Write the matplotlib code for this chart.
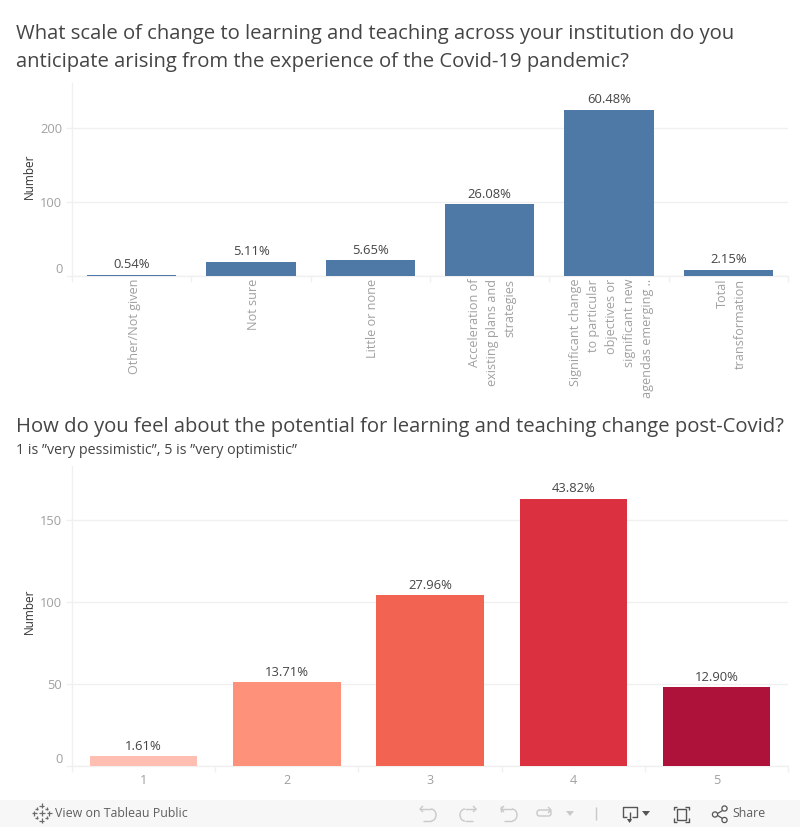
import matplotlib
matplotlib.use("Agg")
import matplotlib.pyplot as plt
from matplotlib.lines import Line2D
from matplotlib.patches import Arc, Circle, Polygon, Rectangle, FancyBboxPatch
from matplotlib.transforms import ScaledTranslation

FONT = "Open Sans"
plt.rcParams["font.family"] = [FONT, "DejaVu Sans"]

W, H = 800, 827

title_top = "What scale of change to learning and teaching across your institution do you\nanticipate arising from the experience of the Covid-19 pandemic?"
title_bottom = "How do you feel about the potential for learning and teaching change post-Covid?"
subtitle_bottom = "1 is \u201dvery pessimistic\u201d, 5 is \u201dvery optimistic\u201d"

top_categories = ["Other/Not given", "Not sure", "Little or none",
                  "Acceleration of\nexisting plans and\nstrategies",
                  "Significant change\nto particular\nobjectives or\nsignificant new\nagendas emerging ..",
                  "Total\ntransformation"]
top_values = [2, 19, 21, 97, 225, 8]
top_labels = ["0.54%", "5.11%", "5.65%", "26.08%", "60.48%", "2.15%"]
top_ticks = [0, 100, 200]
top_color = "#4e79a7"

bottom_categories = ["1", "2", "3", "4", "5"]
bottom_values = [6, 51, 104, 163, 48]
bottom_labels = ["1.61%", "13.71%", "27.96%", "43.82%", "12.90%"]
bottom_ticks = [0, 50, 100, 150]
bottom_colors = ["#ffbeb2", "#fd917a", "#f36351", "#da3040", "#ae123a"]

GRID = "#f0f0f0"
TICK = "#a0a0a0"
DARK = "#454545"

fig = plt.figure(figsize=(W / 100, H / 100), dpi=100, facecolor="white")


def px_axes(left, top, right, bottom):
    return fig.add_axes([left / W, 1 - bottom / H, (right - left) / W, (bottom - top) / H])


def bar_panel(ax, cats, vals, labels, colors, ticks, ymax, rot, label_pad, ylabel_x):
    x = list(range(len(cats)))
    ax.bar(x, vals, width=0.75, color=colors, zorder=3)
    ax.set_xlim(-0.5, len(cats) - 0.5)
    ax.set_ylim(0, ymax)
    for s in ("top", "right"):
        ax.spines[s].set_visible(False)
    for s in ("left", "bottom"):
        ax.spines[s].set_color(GRID)
        ax.spines[s].set_linewidth(1)
    ax.set_yticks(ticks)
    ax.yaxis.grid(True, color=GRID, linewidth=1, zorder=0)
    ax.set_axisbelow(True)
    ax.tick_params(axis="y", length=4, width=1, color=GRID, labelcolor=TICK, labelsize=9.3, pad=3)
    ax.set_xticks(x)
    ax.set_xticks([i - 0.5 for i in range(len(cats) + 1)], minor=True)
    ax.tick_params(axis="x", which="minor", length=4, width=1, color=GRID)
    ax.tick_params(axis="x", which="major", length=0, pad=label_pad, labelcolor=TICK, labelsize=9.1)
    if rot:
        ax.set_xticklabels(cats, rotation=90, va="top", ha="center", multialignment="right",
                           linespacing=1.5)
        for lab in ax.get_xticklabels():
            lab.set_transform(lab.get_transform() + ScaledTranslation(2.5 / 100, 0, fig.dpi_scale_trans))
    else:
        ax.set_xticklabels(cats)
    zero = ax.get_yticklabels()[0]
    zero.set_transform(zero.get_transform() + ScaledTranslation(0, 8 / 100, fig.dpi_scale_trans))
    for xi, v, t in zip(x, vals, labels):
        ax.annotate(t, (xi, v), xytext=(0, 2.6), textcoords="offset points", ha="center", va="bottom",
                    fontsize=9.4, color=DARK, zorder=4)
    ax.set_ylabel("Number", fontsize=8.5, color="#333333")
    ax.yaxis.set_label_coords(ylabel_x, 0.515)


ax1 = px_axes(72, 83, 788, 276)
bar_panel(ax1, top_categories, top_values, top_labels, top_color, top_ticks, 193 / 0.74, True, 2, -0.0503)

ax2 = px_axes(72, 466, 788, 766)
bar_panel(ax2, bottom_categories, bottom_values, bottom_labels, bottom_colors, bottom_ticks, 300 / 1.64, False, 5.5, -0.0503)

# overlay in pixel coordinates for titles and the viewer toolbar
ov = fig.add_axes([0, 0, 1, 1], facecolor="none", zorder=10)
ov.set_xlim(0, W)
ov.set_ylim(H, 0)
ov.axis("off")

ov.text(16, 34, title_top.split("\n")[0], fontsize=14.55, color=DARK, va="center", ha="left")
ov.text(16, 62, title_top.split("\n")[1], fontsize=14.55, color=DARK, va="center", ha="left")
ov.text(16, 427, title_bottom, fontsize=14.55, color=DARK, va="center", ha="left")
ov.text(16, 450, subtitle_bottom, fontsize=10.3, color=DARK, va="center", ha="left")

ov.add_patch(Rectangle((0, 800), W, 27, facecolor="#f7f7f7", edgecolor="none"))
ov.text(55, 813.5, "View on Tableau Public", fontsize=8.95, color="#5f5f5f", va="center", ha="left")
ov.text(732, 813.5, "Share", fontsize=8.95, color="#5f5f5f", va="center", ha="left")


def ln(xs, ys, c="#c9c9c9", lw=1.0):
    ov.add_line(Line2D(xs, ys, color=c, lw=lw, solid_capstyle="butt"))


# logo
for cx, cy, r in [(41.5, 805.5, 2.5), (41.5, 820.5, 2.5), (34, 813, 2.5), (49, 813, 2.5),
                  (41.5, 813, 3), (36.5, 808.5, 1.8), (46.5, 808.5, 1.8), (36.5, 817.5, 1.8), (46.5, 817.5, 1.8)]:
    ln([cx - r, cx + r], [cy, cy], "#6a6a6a", 0.9)
    ln([cx, cx], [cy - r, cy + r], "#6a6a6a", 0.9)


def curl(x0, flip):
    s = -1 if flip else 1
    ln([x0, x0 + s * 11], [809, 809])
    ov.add_patch(Arc((x0 + s * 11, 815), 10, 12, theta1=-90 if not flip else 90, theta2=90 if not flip else 270,
                     color="#c9c9c9", lw=1.0))
    ln([x0 + s * 11, x0 + s * 3], [821, 821])
    ln([x0 + s * 3, x0, x0 + s * 3], [806, 809, 812])


curl(420, False)
curl(476, True)
curl(501, False)
ln([500.5, 500.5], [806, 812])
ov.add_patch(FancyBboxPatch((537, 810), 14, 6, boxstyle="round,pad=0,rounding_size=2.5", fill=False, ec="#c9c9c9", lw=1.0))
ln([548, 551, 548], [807, 810, 813])
ov.add_patch(Polygon([(566, 811), (574, 811), (570, 816)], closed=True, fc="#c9c9c9", ec="none"))
ln([595.5, 595.5], [807, 820], "#c9c9c9", 1.0)
# download
ln([627, 622.5, 622.5, 636.5, 636.5, 632], [816.5, 816.5, 806.5, 806.5, 816.5, 816.5], "#555555", 1.0)
ln([629.5, 629.5], [812, 821], "#555555", 1.0)
ov.add_patch(Polygon([(627, 819), (632, 819), (629.5, 823)], closed=True, fc="#555555", ec="none"))
ov.add_patch(Polygon([(642, 811), (650, 811), (646, 816)], closed=True, fc="#555555", ec="none"))
# fullscreen
ov.add_patch(Rectangle((677, 809), 9, 11, fill=False, ec="#555555", lw=1.0))
for xs, ys in [([673.5, 673.5, 677], [810, 806.5, 806.5]), ([685, 688.5, 688.5], [806.5, 806.5, 810]),
               ([673.5, 673.5, 677], [818, 821.5, 821.5]), ([685, 688.5, 688.5], [821.5, 821.5, 818])]:
    ln(xs, ys, "#555555", 1.0)
# share
ln([716, 725], [814.5, 809], "#555555", 0.9)
ln([716, 725], [814.5, 820], "#555555", 0.9)
for c in [(715, 814.5), (724.5, 808.5), (724.5, 820)]:
    ov.add_patch(Circle(c, 2.6, fc="#f7f7f7", ec="#555555", lw=0.9, zorder=5))

fig.savefig("out.png", dpi=100, facecolor="white")
